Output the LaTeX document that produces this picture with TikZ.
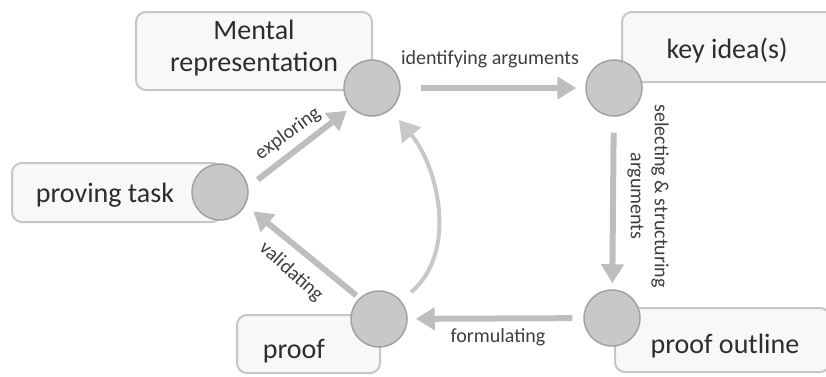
\documentclass[tikz,border=0pt]{standalone}
\usepackage{fontspec}
\setmainfont{Carlito}
\usetikzlibrary{arrows.meta,positioning,calc}
\definecolor{boxline}{RGB}{198,198,198}
\definecolor{boxfill}{RGB}{248,248,248}
\definecolor{dotfill}{RGB}{200,200,200}
\definecolor{dotline}{RGB}{162,162,162}
\definecolor{flowgray}{RGB}{190,190,190}
\definecolor{textdark}{RGB}{45,45,45}
\definecolor{labeldark}{RGB}{62,62,62}
\tikzset{
  stagebox/.style={rounded corners=10pt, draw=boxline, line width=2pt, fill=boxfill},
  stagetext/.style={font=\fontsize{28}{32}\selectfont, text=textdark, align=center, inner sep=0pt},
  stagedot/.style={circle, draw=dotline, line width=1.5pt, fill=dotfill,
    minimum size=56pt, inner sep=0pt},
  flow/.style={-{Triangle[length=19pt,width=22pt]}, line width=6pt, draw=flowgray},
  flowcurve/.style={-{Triangle[length=20pt,width=24pt]}, line width=4pt, draw=flowgray!85!white},
  flowlabel/.style={font=\fontsize{20}{24}\selectfont, text=labeldark, align=center, inner sep=0pt},
}

\begin{document}
\begin{tikzpicture}[x=1pt, y=1pt]
      \useasboundingbox (0,0) rectangle (826,376);

      %% ---- stage boxes ----
      \node[stagebox, minimum width=236pt, minimum height=78pt] (mentalbox) at (254,325) {};
      \node[stagebox, minimum width=210pt, minimum height=59pt] (provingbox) at (117,183.5) {};
      \node[stagebox, minimum width=143pt, minimum height=58pt] (proofbox) at (308.5,32) {};
      \node[stagebox, minimum width=214pt, minimum height=70pt] (keybox) at (729,329) {};
      \node[stagebox, minimum width=215pt, minimum height=64pt] (outlinebox) at (722.5,36) {};

      \node[stagetext] (mentaltext) at (254,328) {Mental\\representation};
      \node[stagetext] (provingtext) at (105,181) {proving task};
      \node[stagetext] (prooftext) at (294,25) {proof};
      \node[stagetext] (keytext) at (727,325) {key idea(s)};
      \node[stagetext] (outlinetext) at (725,30) {proof outline};

      %% ---- dots ----
      \node[stagedot] (mentaldot) at (372,288) {};
      \node[stagedot] (keydot) at (614,288) {};
      \node[stagedot] (provingdot) at (220,184) {};
      \node[stagedot] (proofdot) at (379,57) {};
      \node[stagedot] (outlinedot) at (612,58) {};

      %% ---- flows ----
      \draw[flow, shorten <=20pt, shorten >=9pt] (mentaldot) -- (keydot);
      \draw[flow, shorten <=16pt, shorten >=6pt] (keydot) -- (outlinedot);
      \draw[flow, shorten <=11pt, shorten >=8pt] (outlinedot) -- (proofdot);
      \draw[flow, shorten <=4pt, shorten >=10pt] (proofdot.133) -- (provingdot.-27);
      \draw[flow, shorten <=12pt, shorten >=5pt] (provingdot.10) -- (mentaldot.223);
      \draw[flowcurve, shorten <=13pt, shorten >=13pt] (proofdot) to[out=40, in=-50] (mentaldot);

      \node[flowlabel] (identlabel) at (490,317) {identifying arguments};
      \node[flowlabel, rotate=-90] (selectlabel) at (648,180) {selecting \& structuring\\arguments};
      \node[flowlabel] (formlabel) at (498,39) {formulating};
      \node[flowlabel, rotate=-42] (validlabel) at (291,104) {validating};
      \node[flowlabel, rotate=36] (explorelabel) at (288,242) {exploring};
\end{tikzpicture}
\end{document}
